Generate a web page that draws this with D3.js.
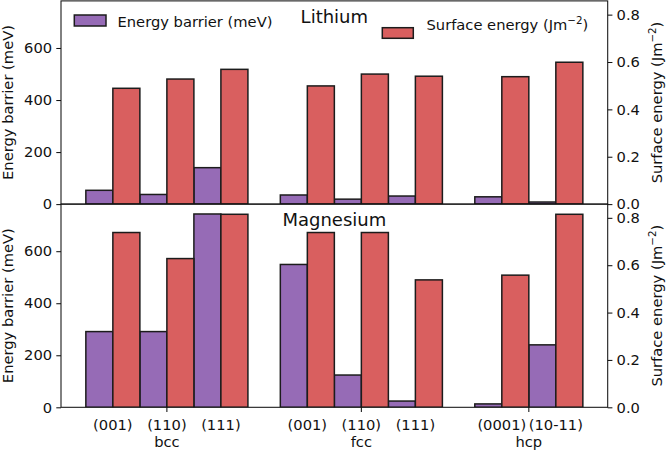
<!DOCTYPE html>
<html>
<head>
<meta charset="utf-8">
<script src="https://cdn.jsdelivr.net/npm/d3@7"></script>
<style>
  html, body { margin: 0; padding: 0; background: #fff; }
  svg { display: block; }
  text { font-family: "DejaVu Sans", sans-serif; fill: #111; }
</style>
</head>
<body>
<svg id="chart" width="666" height="451"></svg>
<script>
// ---- data ----
const facets = ["(001)", "(110)", "(111)", "(001)", "(110)", "(111)", "(0001)", "(10-11)"];
const structures = ["bcc", "bcc", "bcc", "fcc", "fcc", "fcc", "hcp", "hcp"];
const groupNames = ["bcc", "fcc", "hcp"];
const liBarrier = [53, 37, 140, 35, 19, 31, 28, 8];
const liSurface = [0.489, 0.528, 0.569, 0.499, 0.549, 0.540, 0.538, 0.599];
const mgBarrier = [291, 291, 743, 549, 124, 24, 13, 240];
const mgSurface = [0.738, 0.628, 0.815, 0.738, 0.738, 0.538, 0.558, 0.815];
const barrierTicks = [0, 200, 400, 600];
const surfaceTicks = [0, 0.2, 0.4, 0.6, 0.8];
const panelTitles = ["Lithium", "Magnesium"];

// ---- layout ----
const svg = d3.select("#chart");
const FS = 14.7;
const left = 61, right = 607.7;
const panelH = 203.2;
const tops = [0.9, 204.1];
const purple = "#966bb6", red = "#d95f5f", edge = "#1c1c1c";

// x position of each facet: index plus a gap per structure group
const xPos = facets.map((f, i) => i + 0.6 * groupNames.indexOf(structures[i]));
const barW = 0.5;
const xMin = d3.min(xPos) - barW, xMax = d3.max(xPos) + barW;
const pad = (xMax - xMin) * 0.05;
const x = d3.scaleLinear().domain([xMin - pad, xMax + pad]).range([left, right]);

const panels = [
  { barrier: liBarrier, surface: liSurface },
  { barrier: mgBarrier, surface: mgSurface }
];

panels.forEach((p, k) => {
  const top = tops[k], bottom = top + panelH;
  const yL = d3.scaleLinear().domain([0, 781]).range([bottom, top]);
  const yR = d3.scaleLinear().domain([0, 0.858]).range([bottom, top]);
  const g = svg.append("g");

  const clipId = "clip" + k;
  svg.append("clipPath").attr("id", clipId).append("rect")
    .attr("x", left).attr("y", top).attr("width", right - left).attr("height", panelH);

  const bars = g.append("g").attr("clip-path", `url(#${clipId})`);
  bars.selectAll("rect.b").data(p.barrier).join("rect")
    .attr("class", "b")
    .attr("x", (d, i) => x(xPos[i] - barW))
    .attr("width", (d, i) => x(xPos[i]) - x(xPos[i] - barW))
    .attr("y", d => yL(d))
    .attr("height", d => yL(0) - yL(d))
    .attr("fill", purple).attr("stroke", edge).attr("stroke-width", 1.5);
  bars.selectAll("rect.s").data(p.surface).join("rect")
    .attr("class", "s")
    .attr("x", (d, i) => x(xPos[i]))
    .attr("width", (d, i) => x(xPos[i] + barW) - x(xPos[i]))
    .attr("y", d => yR(d))
    .attr("height", d => yR(0) - yR(d))
    .attr("fill", red).attr("stroke", edge).attr("stroke-width", 1.5);

  // left axis
  const axL = d3.axisLeft(yL).tickValues(barrierTicks).tickSize(4.7).tickPadding(4.2);
  const gl = g.append("g").attr("transform", `translate(${left},0)`).call(axL);
  gl.select(".domain").remove();
  gl.selectAll("line").attr("stroke", "#111").attr("stroke-width", 1.05);
  gl.selectAll("text").attr("font-size", FS).attr("font-family", "DejaVu Sans").attr("fill", "#111");

  // right axis
  const axR = d3.axisRight(yR).tickValues(surfaceTicks).tickFormat(d3.format(".1f")).tickSize(4.7).tickPadding(4.2);
  const gr = g.append("g").attr("transform", `translate(${right},0)`).call(axR);
  gr.select(".domain").remove();
  gr.selectAll("line").attr("stroke", "#111").attr("stroke-width", 1.05);
  gr.selectAll("text").attr("font-size", FS).attr("font-family", "DejaVu Sans").attr("fill", "#111");

  // frame
  g.append("rect").attr("x", left).attr("y", top).attr("width", right - left).attr("height", panelH)
    .attr("fill", "none").attr("stroke", "#111").attr("stroke-width", 1.05);

  // title
  g.append("text").attr("x", (left + right) / 2).attr("y", top + 21.6)
    .attr("text-anchor", "middle").attr("font-size", 18).text(panelTitles[k]);

  // y labels
  g.append("text").attr("transform", `translate(12.6,${top + panelH / 2}) rotate(-90)`)
    .attr("text-anchor", "middle").attr("font-size", FS).text("Energy barrier (meV)");
  const rl = g.append("text").attr("transform", `translate(662.2,${top + panelH / 2}) rotate(-90)`)
    .attr("text-anchor", "middle").attr("font-size", FS);
  rl.append("tspan").text("Surface energy (Jm");
  rl.append("tspan").attr("dy", -6).attr("font-size", FS * 0.7).text("\u22122");
  rl.append("tspan").attr("dy", 6).text(")");
});

// legends (top panel)
const lg = svg.append("g");
lg.append("rect").attr("x", 74.3).attr("y", 15).attr("width", 31.7).attr("height", 11)
  .attr("fill", purple).attr("stroke", edge).attr("stroke-width", 1.5);
lg.append("text").attr("x", 117.5).attr("y", 26.5).attr("font-size", FS).text("Energy barrier (meV)");
lg.append("rect").attr("x", 382.3).attr("y", 27.7).attr("width", 31).attr("height", 10.6)
  .attr("fill", red).attr("stroke", edge).attr("stroke-width", 1.5);
const st = lg.append("text").attr("x", 426.5).attr("y", 29.5).attr("font-size", FS);
st.append("tspan").text("Surface energy (Jm");
st.append("tspan").attr("dy", -6).attr("font-size", FS * 0.7).text("\u22122");
st.append("tspan").attr("dy", 6).text(")");

// x axis (bottom panel only)
const xb = tops[1] + panelH;
const xa = svg.append("g");
xa.selectAll("text.f").data(facets).join("text")
  .attr("class", "f")
  .attr("x", (d, i) => x(xPos[i]))
  .attr("y", xb + 22.5)
  .attr("text-anchor", "middle").attr("font-size", FS).text(d => d);
const groupCenters = groupNames.map(gn => d3.mean(xPos.filter((v, i) => structures[i] === gn)));
xa.selectAll("line.g").data(groupCenters).join("line")
  .attr("class", "g")
  .attr("x1", d => x(d)).attr("x2", d => x(d))
  .attr("y1", xb).attr("y2", xb + 4.7)
  .attr("stroke", "#111").attr("stroke-width", 1.05);
xa.selectAll("text.g").data(groupNames).join("text")
  .attr("class", "g")
  .attr("x", (d, i) => x(groupCenters[i]))
  .attr("y", xb + 40)
  .attr("text-anchor", "middle").attr("font-size", FS).text(d => d);
</script>
</body>
</html>
